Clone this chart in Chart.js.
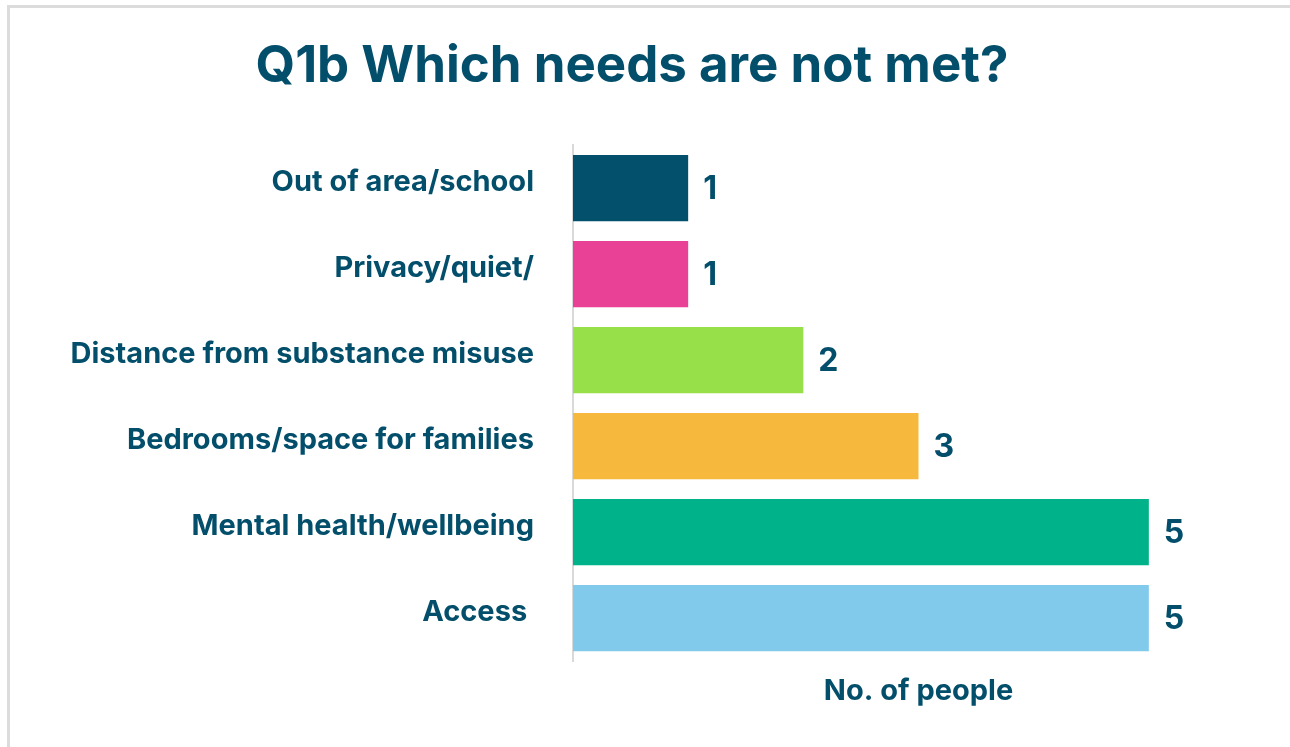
<!DOCTYPE html>
<html>
<head>
<meta charset="utf-8">
<title>Q1b Which needs are not met?</title>
<script src="https://cdn.jsdelivr.net/npm/chart.js@4/dist/chart.umd.min.js"></script>
<style>
  html, body { margin: 0; padding: 0; background: #fff; }
  #wrap { position: relative; width: 1290px; height: 747px; overflow: hidden; }
  #frame {
    position: absolute; left: 7px; top: 5px; width: 1400px; height: 800px;
    border-left: 3px solid #dcdcdc; border-top: 3px solid #dcdcdc;
  }
  #chart { position: absolute; left: 0; top: 0; }
</style>
</head>
<body>
<div id="wrap">
  <div id="frame"></div>
  <canvas id="chart" width="1290" height="747"></canvas>
</div>
<script>
// Survey answers: which needs are not met
const categories = [
  'Out of area/school',
  'Privacy/quiet/',
  'Distance from substance misuse',
  'Bedrooms/space for families',
  'Mental health/wellbeing',
  'Access '
];
const counts = [1, 1, 2, 3, 5, 5];
const barColors = ['#02506b', '#e84196', '#97e04a', '#f7b93d', '#00b289', '#82caeb'];

const ink = '#034f6b';
const fontFamily = 'Inter, "Open Sans", sans-serif';

// Writes the count just past the end of each bar
const valueLabels = {
  id: 'valueLabels',
  afterDatasetsDraw(chart) {
    const ctx = chart.ctx;
    const meta = chart.getDatasetMeta(0);
    ctx.save();
    ctx.font = 'bold 32px ' + fontFamily;
    ctx.fillStyle = ink;
    ctx.textAlign = 'left';
    ctx.textBaseline = 'middle';
    meta.data.forEach((bar, i) => {
      ctx.fillText(String(counts[i]), bar.x + 15, bar.y + 1);
    });
    ctx.restore();
  }
};

new Chart(document.getElementById('chart').getContext('2d'), {
  type: 'bar',
  data: {
    labels: categories,
    datasets: [{
      data: counts,
      backgroundColor: barColors,
      borderWidth: 0,
      barPercentage: 0.77,
      categoryPercentage: 1
    }]
  },
  options: {
    indexAxis: 'y',
    responsive: false,
    animation: false,
    layout: {
      padding: { left: 0, right: 26, top: 0, bottom: 38 }
    },
    scales: {
      x: {
        min: 0,
        max: 6,
        grid: { display: false },
        border: { display: false },
        ticks: { display: false },
        title: {
          display: true,
          text: 'No. of people',
          color: ink,
          font: { family: fontFamily, size: 29, weight: 'bold' },
          padding: { top: 5, bottom: 0 }
        }
      },
      y: {
        grid: { display: false },
        border: { display: true, color: '#d9d9d9', width: 2 },
        ticks: {
          color: ink,
          padding: 31,
          labelOffset: -6,
          font: { family: fontFamily, size: 29, weight: 'bold' }
        },
        afterFit(scale) {
          scale.width = 573;
        }
      }
    },
    plugins: {
      legend: { display: false },
      tooltip: { enabled: false },
      title: {
        display: true,
        text: 'Q1b Which needs are not met?',
        color: ink,
        font: { family: fontFamily, size: 51, weight: 'bold' },
        padding: { top: 36, bottom: 48 }
      }
    }
  },
  plugins: [valueLabels]
});
</script>
</body>
</html>
